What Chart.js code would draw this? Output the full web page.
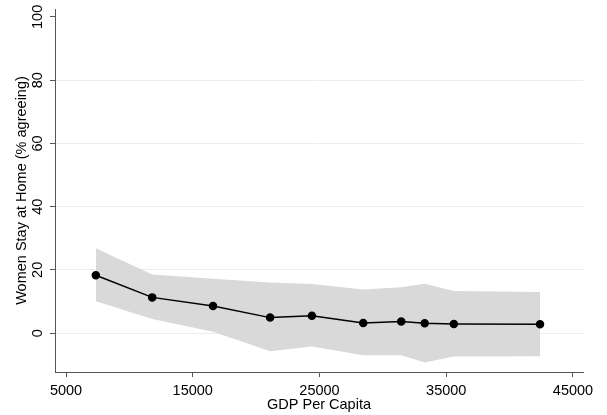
<!DOCTYPE html>
<html>
<head>
<meta charset="utf-8">
<script src="https://cdn.jsdelivr.net/npm/chart.js@4.4.1/dist/chart.umd.min.js"></script>
<style>
  html, body { margin: 0; padding: 0; background: #fff; }
  #wrap { width: 607px; height: 415px; }
</style>
</head>
<body>
<div id="wrap"><canvas id="gdpChart"></canvas></div>
<script>
// GDP per capita of each group and the share agreeing, with its confidence band
const gdp = [7350, 11800, 16600, 21100, 24400, 28450, 31450, 33300, 35600, 42400];
const agree = [18.3, 11.3, 8.6, 4.9, 5.5, 3.2, 3.7, 3.1, 2.9, 2.8];
const upperCI = [26.8, 18.5, 17.2, 16.0, 15.5, 13.8, 14.5, 15.6, 13.3, 13.0];
const lowerCI = [10.1, 4.5, 0.4, -5.7, -4.2, -7.0, -7.0, -9.3, -7.4, -7.3];

const xTicks = [5000, 15000, 25000, 35000, 45000];
const yTicks = [0, 20, 40, 60, 80, 100];

const pts = arr => gdp.map((g, i) => ({ x: g, y: arr[i] }));
const font = { family: "'Liberation Sans', Arial, sans-serif", size: 14.5 };

const ctx = document.getElementById('gdpChart').getContext('2d');
const gdpChart = new Chart(ctx, {
    type: 'line',
    data: {
        datasets: [{
            label: 'Women Stay at Home',
            data: pts(agree),
            borderColor: '#000',
            backgroundColor: '#000',
            borderWidth: 1.5,
            pointRadius: 3.5,
            pointHoverRadius: 3.5,
            fill: false
        }, {
            label: 'upper',
            data: pts(upperCI),
            borderWidth: 0,
            pointRadius: 0,
            backgroundColor: '#d9d9d9',
            fill: '+1'
        }, {
            label: 'lower',
            data: pts(lowerCI),
            borderWidth: 0,
            pointRadius: 0,
            fill: false
        }]
    },
    options: {
        responsive: true,
        maintainAspectRatio: false,
        animation: false,
        events: [],
        layout: { padding: { top: 9, right: 24, left: 0, bottom: 0 } },
        plugins: {
            legend: { display: false },
            tooltip: { enabled: false }
        },
        scales: {
            x: {
                type: 'linear',
                min: 4130,
                max: 45790,
                afterBuildTicks: s => { s.ticks = xTicks.map(v => ({ value: v })); },
                afterFit: s => { s.height = 43; },
                border: { color: '#555', width: 1 },
                grid: { display: true, drawOnChartArea: false, tickLength: 5, color: '#555' },
                ticks: { color: '#000', font: font, padding: 5, maxRotation: 0,
                         callback: v => String(v) },
                title: { display: true, text: 'GDP Per Capita', color: '#000', font: font,
                         padding: { top: 0, bottom: 1 } }
            },
            y: {
                type: 'linear',
                min: -12.3,
                max: 102.5,
                afterBuildTicks: s => { s.ticks = yTicks.map(v => ({ value: v })); },
                afterFit: s => { s.width = 55; },
                border: { color: '#555', width: 1 },
                grid: {
                    tickLength: 5,
                    color: c => c.tick && c.tick.value === 100 ? 'rgba(0,0,0,0)' : '#e6eff1',
                    tickColor: '#555'
                },
                ticks: { color: '#000', font: font, padding: 0, minRotation: 90, maxRotation: 90,
                         crossAlign: 'center' },
                title: { display: true, text: 'Women Stay at Home (% agreeing)', color: '#000',
                         font: font, padding: { top: 13, bottom: 0 } }
            }
        }
    }
});
</script>
</body>
</html>
